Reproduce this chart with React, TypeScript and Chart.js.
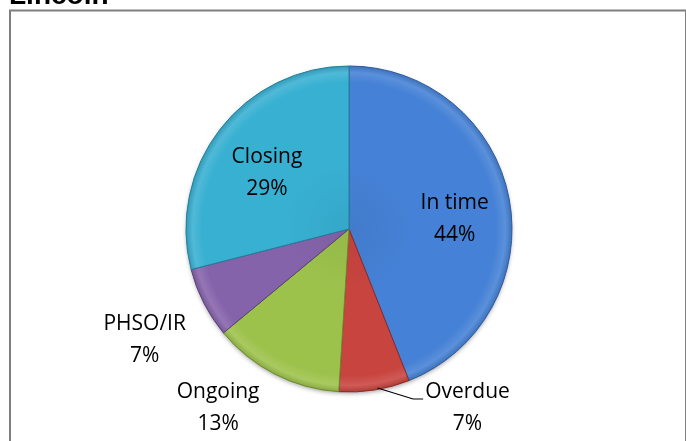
import React, { useEffect, useRef } from "react";
import { Chart, registerables } from "chart.js";

Chart.register(...registerables);

const categories = ["In time", "Overdue", "Ongoing", "PHSO/IR", "Closing"];
const values = [44, 7, 13, 7, 29];
const chartTitle = "Lincoln";

const baseColors = ["#4581d6", "#c8443f", "#9dc24c", "#8563ab", "#38b0d2"];
const edgeColors = ["#2f5a9c", "#8e2a27", "#6d8a2c", "#5b4079", "#24809a"];

// label placement: radial factor of the outer radius plus a small nudge
const labelPlacement = [
  { f: 0.66, dx: 0, dy: 10 },
  { f: 1.0, dx: 93, dy: 18 },
  { f: 1.35, dx: -31, dy: -17 },
  { f: 1.4, dx: -1, dy: 7 },
  { f: 0.66, dx: 3, dy: 10 },
];

function hexToRgb(h: string) {
  const n = parseInt(h.slice(1), 16);
  return [(n >> 16) & 255, (n >> 8) & 255, n & 255];
}
function mix(h: string, amt: number) {
  const [r, g, b] = hexToRgb(h);
  const t = amt > 0 ? 255 : 0;
  const a = Math.abs(amt);
  const f = (c: number) => Math.round(c + (t - c) * a);
  return `rgb(${f(r)},${f(g)},${f(b)})`;
}

export default function App() {
  const ref = useRef<HTMLCanvasElement>(null);
  useEffect(() => {
    if (!ref.current) return;
    const total = values.reduce((a, b) => a + b, 0);
    const pct = values.map((v) => Math.round((v / total) * 100) + "%");

    const framePlugin = {
      id: "frame",
      beforeDraw(chart: any) {
        const ctx = chart.ctx;
        ctx.save();
        ctx.fillStyle = "#ffffff";
        ctx.fillRect(0, 0, chart.width, chart.height);
        ctx.strokeStyle = "#7f7f7f";
        ctx.lineWidth = 2;
        ctx.strokeRect(10, 10.5, 676, 500);
        ctx.fillStyle = "#000";
        ctx.font = "bold 28px 'Liberation Sans', Arial, sans-serif";
        ctx.textBaseline = "alphabetic";
        ctx.textAlign = "left";
        ctx.fillText(chartTitle, 9, 4);
        ctx.restore();
      },
      beforeDatasetsDraw(chart: any) {
        const ctx = chart.ctx;
        const arc = chart.getDatasetMeta(0).data[0];
        if (!arc) return;
        const { x, y, outerRadius } = arc.getProps(["x", "y", "outerRadius"], true);
        ctx.save();
        ctx.shadowColor = "rgba(0,0,0,0.45)";
        ctx.shadowBlur = 5;
        ctx.shadowOffsetY = 2;
        ctx.fillStyle = "#555";
        ctx.beginPath();
        ctx.arc(x, y, outerRadius - 1, 0, Math.PI * 2);
        ctx.fill();
        ctx.restore();
      },
    };

    const labelPlugin = {
      id: "sliceLabels",
      afterDatasetsDraw(chart: any) {
        const ctx = chart.ctx;
        const meta = chart.getDatasetMeta(0);
        ctx.save();
        ctx.font = "21px 'Open Sans', sans-serif";
        ctx.fillStyle = "#000";
        ctx.textAlign = "center";
        ctx.textBaseline = "middle";
        meta.data.forEach((el: any, i: number) => {
          const { x, y, startAngle, endAngle, outerRadius } = el.getProps(
            ["x", "y", "startAngle", "endAngle", "outerRadius"],
            true
          );
          const mid = (startAngle + endAngle) / 2;
          const p = labelPlacement[i];
          const lx = x + Math.cos(mid) * outerRadius * p.f + p.dx;
          const ly = y + Math.sin(mid) * outerRadius * p.f + p.dy;
          ctx.fillText(categories[i], lx, ly - 16);
          ctx.fillText(pct[i], lx, ly + 16);
          if (i === 1) {
            const w = ctx.measureText(categories[i]).width;
            const sx = x + Math.cos(mid) * outerRadius;
            const sy = y + Math.sin(mid) * outerRadius;
            const ex = lx - w / 2 - 2;
            ctx.strokeStyle = "#000";
            ctx.lineWidth = 1.2;
            ctx.beginPath();
            ctx.moveTo(sx + 3, sy - 2);
            ctx.lineTo(ex - 10, ly - 9);
            ctx.lineTo(ex, ly - 9);
            ctx.stroke();
          }
        });
        ctx.restore();
      },
    };

    const chart = new Chart(ref.current, {
      type: "pie",
      data: {
        labels: categories,
        datasets: [
          {
            data: values,
            backgroundColor: (c: any) => {
              const ch = c.chart;
              const area = ch.chartArea;
              const base = baseColors[c.dataIndex];
              if (!area) return base;
              const cx = (area.left + area.right) / 2;
              const cy = (area.top + area.bottom) / 2;
              const g = ch.ctx.createRadialGradient(cx, cy, 0, cx, cy, 163);
              g.addColorStop(0, mix(base, -0.05));
              g.addColorStop(0.4, base);
              g.addColorStop(0.9, base);
              g.addColorStop(0.96, mix(base, 0.12));
              g.addColorStop(1, mix(base, -0.12));
              return g;
            },
            borderColor: edgeColors,
            borderWidth: 1,
          },
        ],
      },
      options: {
        animation: false,
        responsive: false,
        radius: 163,
        layout: { padding: { left: 12, right: 0, top: 17, bottom: 0 } },
        plugins: {
          legend: { display: false },
          tooltip: { enabled: false },
          title: { display: false },
        },
      },
      plugins: [framePlugin, labelPlugin],
    } as any);
    return () => chart.destroy();
  }, []);

  return (
    <div style={{ position: "fixed", left: 0, top: 0, width: 686, height: 441 }}>
      <canvas ref={ref} width={686} height={441} style={{ width: 686, height: 441, display: "block" }} />
    </div>
  );
}
